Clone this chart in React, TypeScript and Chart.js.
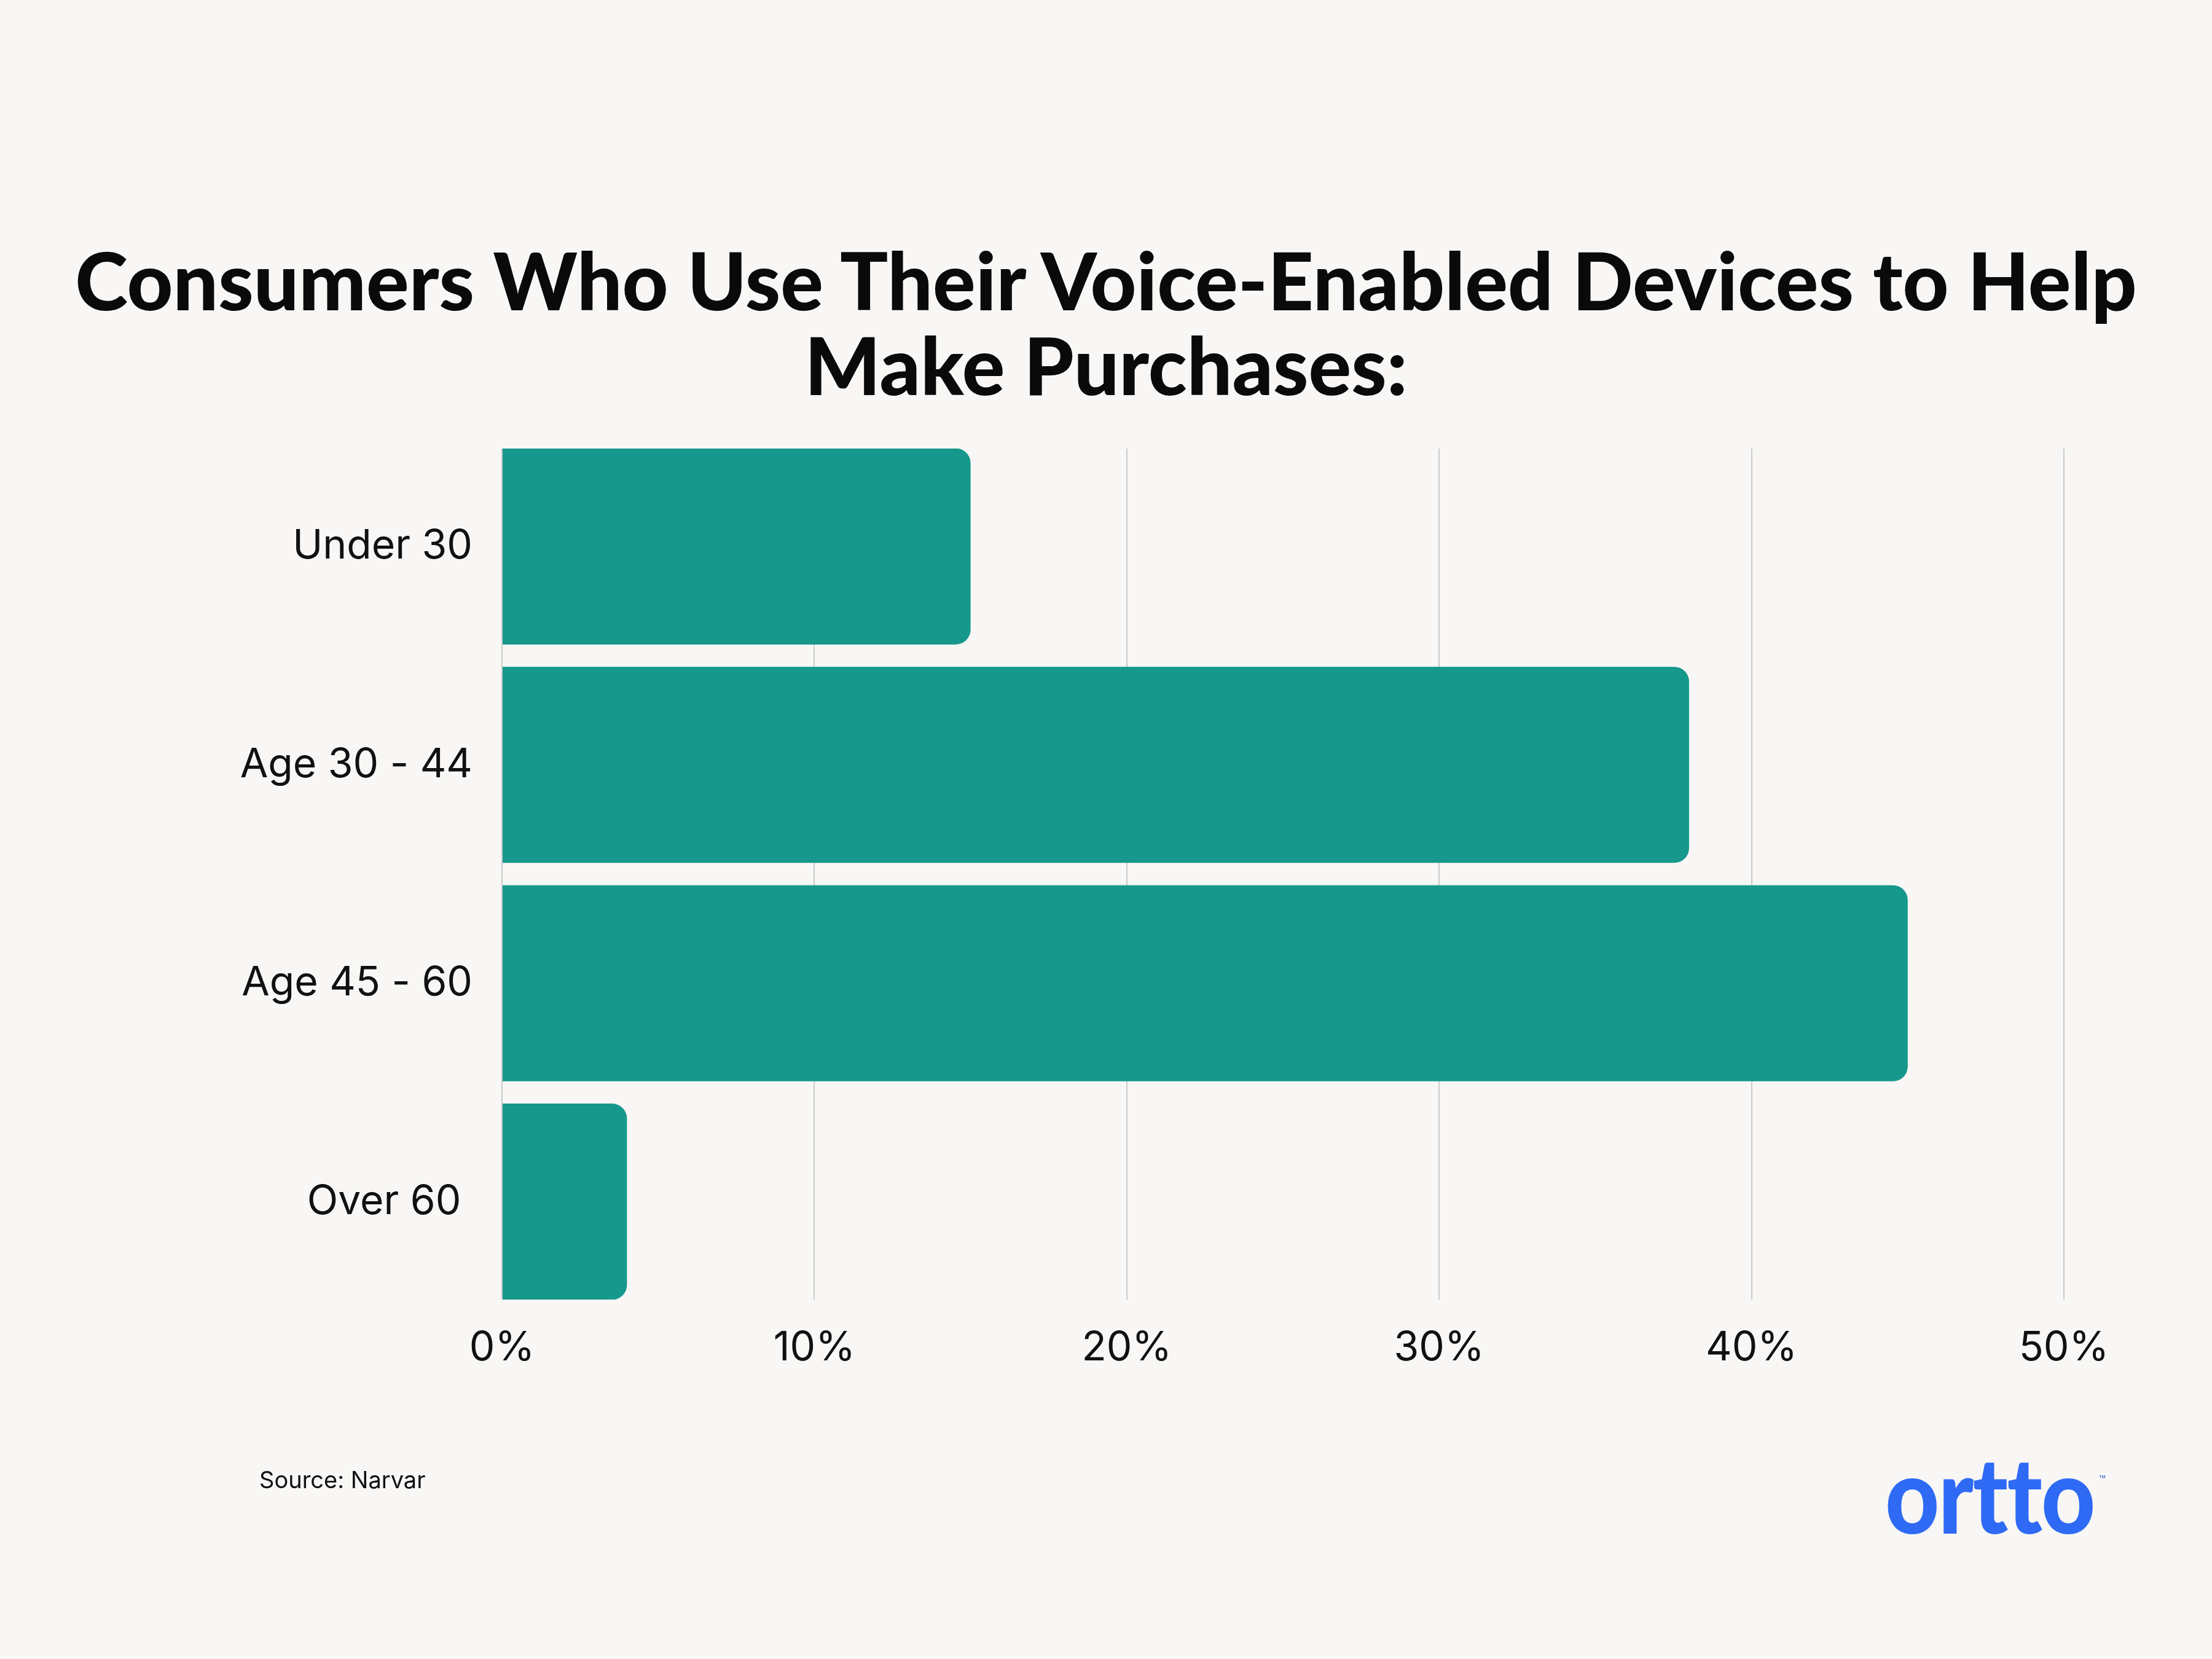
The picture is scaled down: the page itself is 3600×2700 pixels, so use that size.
import React, { useEffect, useRef } from "react";
import { Chart, registerables } from "chart.js";

Chart.register(...registerables);

const categories = ["Under 30", "Age 30 - 44", "Age 45 - 60", "Over 60 "];
const values = [15, 38, 45, 4];
const xTickValues = [0, 10, 20, 30, 40, 50];
const titleLines = ["Consumers Who Use Their Voice-Enabled Devices to Help", "Make Purchases:"];
const sourceText = "Source: Narvar";
const brandText = "ortto";

const BAR_COLOR = "#16988c";
const GRID_COLOR = "#cacaca";
const BG = "#f8f7f5";

export default function App() {
  const canvasRef = useRef<HTMLCanvasElement | null>(null);

  useEffect(() => {
    const canvas = canvasRef.current;
    if (!canvas) return;
    const tickFont = { family: "Inter", size: 66, weight: "normal" as const };
    const chart = new Chart(canvas, {
      type: "bar",
      data: {
        datasets: [
          {
            data: values.map((v, i) => ({ x: v, y: i })),
            backgroundColor: BAR_COLOR,
            borderRadius: 24,
            borderSkipped: "start",
            barPercentage: 0.898,
            categoryPercentage: 1,
          },
        ],
      },
      options: {
        indexAxis: "y",
        responsive: false,
        animation: false,
        layout: { padding: { left: 0, right: 241, top: 730, bottom: 385 } },
        plugins: {
          legend: { display: false },
          tooltip: { enabled: false },
          title: { display: false },
        },
        scales: {
          x: {
            type: "linear",
            position: "bottom",
            min: 0,
            max: 50,
            offset: false,
            afterBuildTicks: (s: any) => {
              s.ticks = xTickValues.map((v) => ({ value: v }));
            },
            afterFit: (s: any) => {
              s.height = 200;
            },
            ticks: {
              callback: (v: any) => `${v}%`,
              font: tickFont,
              color: "#111111",
              padding: 40,
              maxRotation: 0,
            },
            grid: { color: GRID_COLOR, lineWidth: 2, drawTicks: false, offset: false },
            border: { display: false },
          },
          y: {
            type: "linear",
            position: "left",
            reverse: true,
            offset: false,
            min: -0.448,
            max: 3.448,
            afterBuildTicks: (s: any) => {
              s.ticks = categories.map((_, i) => ({ value: i }));
            },
            afterFit: (s: any) => {
              s.width = 817;
            },
            ticks: {
              callback: (v: any) => categories[Math.round(Number(v))] ?? "",
              font: tickFont,
              color: "#111111",
              padding: 48,
            },
            grid: { display: false, drawTicks: false, offset: false },
            border: { display: false },
          },
        },
      },
    } as any);
    return () => chart.destroy();
  }, []);

  return (
    <div
      style={{
        position: "absolute",
        left: 0,
        top: 0,
        width: 3600,
        height: 2700,
        background: BG,
        overflow: "hidden",
      }}
    >
      <canvas
        ref={canvasRef}
        width={3600}
        height={2700}
        style={{ position: "absolute", left: 0, top: 0, width: 3600, height: 2700 }}
      />
      <div
        style={{
          position: "absolute",
          left: 0,
          top: 386,
          width: 3600,
          textAlign: "center",
          fontFamily: "Lato",
          fontWeight: 900,
          fontSize: 130,
          lineHeight: "138px",
          color: "#0a0a0a",
          whiteSpace: "nowrap",
        }}
      >
        {titleLines.map((t, i) => (
          <div key={i}>{t}</div>
        ))}
      </div>
      <div
        style={{
          position: "absolute",
          left: 422,
          top: 2389,
          fontFamily: "Inter",
          fontSize: 38,
          lineHeight: "38px",
          color: "#111111",
          whiteSpace: "nowrap",
        }}
      >
        {sourceText}
      </div>
      <div
        style={{
          position: "absolute",
          left: 3068,
          top: 2344,
          fontFamily: "Lato",
          fontWeight: 900,
          fontSize: 172,
          lineHeight: "172px",
          color: "#2f6af5",
          whiteSpace: "nowrap",
          transform: "scaleX(0.89)",
          transformOrigin: "left top",
          letterSpacing: -2,
        }}
      >
        {brandText}
      </div>
      <div
        style={{
          position: "absolute",
          left: 3416,
          top: 2400,
          fontFamily: "Inter",
          fontSize: 18,
          lineHeight: "18px",
          color: "#3a64c8",
        }}
      >
        ™
      </div>
    </div>
  );
}
